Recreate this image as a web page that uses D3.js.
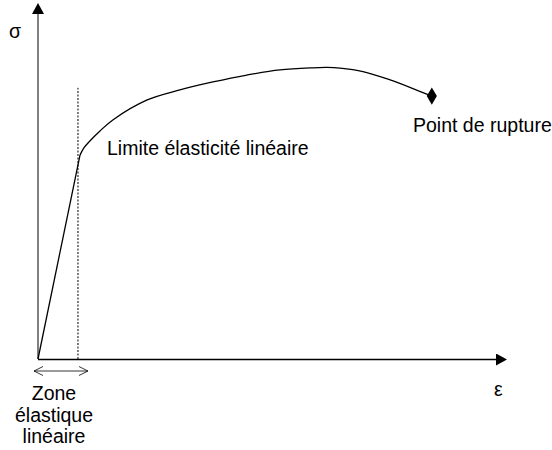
<!DOCTYPE html>
<html>
<head>
<meta charset="utf-8">
<script src="https://cdn.jsdelivr.net/npm/d3@7"></script>
<style>
  body { margin: 0; background: #fff; }
  text { font-family: "Liberation Sans", Arial, sans-serif; font-size: 19.5px; fill: #000; }
</style>
</head>
<body>
<svg id="chart"></svg>
<script>
// Chart size
const width = 552;
const height = 450;

// Strain / stress values (arbitrary units 0..10)
const elasticStrain = [0, 0.915];
const elasticStress = [0, 5.91];
const plasticStrain = [0.915, 1.0, 1.13, 1.35, 1.63, 2.38, 3.09, 3.81, 4.55, 5.27, 5.99, 6.30, 6.58, 7.08, 7.67, 8.17, 8.58];
const plasticStress = [5.91, 6.12, 6.32, 6.61, 6.93, 7.51, 7.80, 8.03, 8.23, 8.38, 8.44, 8.45, 8.43, 8.33, 8.09, 7.84, 7.62];
const limitStrain = 0.871;   // dotted line
const limitTop = 7.86;
const rupture = [8.58, 7.62];

// Labels
const yLabel = "σ";
const xLabel = "ε";
const limitLabel = "Limite élasticité linéaire";
const ruptureLabel = "Point de rupture";
const zoneLabel = ["Zone", "élastique", "linéaire"];

const svg = d3.select("#chart")
    .attr("width", width)
    .attr("height", height);

svg.append("rect").attr("width", width).attr("height", height).attr("fill", "#fff");

// Scales
const xScale = d3.scaleLinear().domain([0, 10]).range([38, 497]);
const yScale = d3.scaleLinear().domain([0, 10]).range([359, 14]);

// Arrow heads
const defs = svg.append("defs");
defs.append("marker")
    .attr("id", "head")
    .attr("viewBox", "0 0 11 12")
    .attr("refX", 0).attr("refY", 6)
    .attr("markerWidth", 11).attr("markerHeight", 12)
    .attr("markerUnits", "userSpaceOnUse")
    .attr("orient", "auto")
  .append("path")
    .attr("d", "M0,0L11,6L0,12Z")
    .attr("fill", "#000");

defs.append("marker")
    .attr("id", "chevron")
    .attr("viewBox", "-1 -1 11 11")
    .attr("refX", 9).attr("refY", 4.5)
    .attr("markerWidth", 11).attr("markerHeight", 11)
    .attr("markerUnits", "userSpaceOnUse")
    .attr("orient", "auto-start-reverse")
  .append("path")
    .attr("d", "M0,0L9,4.5L0,9")
    .attr("fill", "none")
    .attr("stroke", "#000")
    .attr("stroke-width", 0.8);

// Y axis (grey)
svg.append("line")
    .attr("x1", xScale(0)).attr("x2", xScale(0))
    .attr("y1", yScale(0)).attr("y2", yScale(10))
    .attr("stroke", "#808080")
    .attr("stroke-width", 2)
    .attr("marker-end", "url(#head)");

// X axis
svg.append("line")
    .attr("x1", xScale(0)).attr("x2", xScale(10) - 1)
    .attr("y1", yScale(0) + 0.5).attr("y2", yScale(0) + 0.5)
    .attr("stroke", "#000")
    .attr("stroke-width", 1.5)
    .attr("marker-end", "url(#head)");

// Dotted elastic limit line
svg.append("line")
    .attr("x1", xScale(limitStrain)).attr("x2", xScale(limitStrain))
    .attr("y1", yScale(0)).attr("y2", yScale(limitTop))
    .attr("stroke", "#000")
    .attr("stroke-width", 1)
    .attr("stroke-dasharray", "2,1.5");

// Elastic (linear) part
const linear = d3.line()
    .x((d, i) => xScale(elasticStrain[i]))
    .y((d, i) => yScale(elasticStress[i]));
svg.append("path")
    .attr("d", linear(elasticStrain))
    .attr("fill", "none")
    .attr("stroke", "#000")
    .attr("stroke-width", 1.3);

// Plastic part
const smooth = d3.line()
    .x((d, i) => xScale(plasticStrain[i]))
    .y((d, i) => yScale(plasticStress[i]))
    .curve(d3.curveCatmullRom.alpha(0.5));
svg.append("path")
    .attr("d", smooth(plasticStrain))
    .attr("fill", "none")
    .attr("stroke", "#000")
    .attr("stroke-width", 1.3);

// Rupture point
svg.append("path")
    .attr("d", d3.symbol(d3.symbolDiamond, 88)())
    .attr("transform", `translate(${xScale(rupture[0])},${yScale(rupture[1])})`)
    .attr("fill", "#000");

// Double arrow under the elastic zone
svg.append("line")
    .attr("x1", xScale(0) - 4).attr("x2", xScale(limitStrain) + 10)
    .attr("y1", 371).attr("y2", 371)
    .attr("stroke", "#000")
    .attr("stroke-width", 0.8)
    .attr("marker-start", "url(#chevron)")
    .attr("marker-end", "url(#chevron)");

// Texts
svg.append("text").attr("x", 9).attr("y", 37.5).text(yLabel);
svg.append("text").attr("x", 494).attr("y", 396).text(xLabel);
svg.append("text").attr("x", 107).attr("y", 155).text(limitLabel);
svg.append("text").attr("x", 413).attr("y", 132).text(ruptureLabel);

svg.append("text")
    .attr("text-anchor", "middle")
    .selectAll("tspan")
    .data(zoneLabel)
    .join("tspan")
    .attr("x", 54)
    .attr("y", (d, i) => 400 + i * 21.5)
    .text(d => d);
</script>
</body>
</html>
